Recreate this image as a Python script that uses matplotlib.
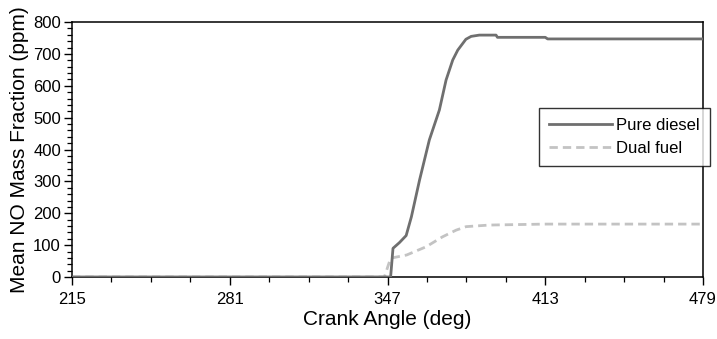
import numpy as np
import matplotlib.pyplot as plt

plt.rcParams['font.family'] = ['Liberation Sans', 'DejaVu Sans']

# Pure diesel: crank angle (deg) and mean NO mass fraction (ppm)
angulo_diesel = [215, 348.3, 349.3, 352, 354.8, 357, 360.4, 364.5, 368.7,
                 371.5, 374.3, 376.4, 379.8, 382, 385.4, 392.4, 393, 413, 414, 479]
no_diesel = [0, 0, 90, 108, 130, 189, 304, 430, 524,
             618, 681, 712, 746, 755, 759, 759, 752, 752, 747, 747]

# Dual fuel
angulo_dual = [215, 345.7, 348.3, 355, 363.2, 370, 375.7, 379.9, 389.6, 413, 479]
no_dual = [0, 0, 59, 69, 95, 126, 147, 158, 163, 166, 166]

ticks_x = [215, 281, 347, 413, 479]

fig = plt.figure(figsize=(7.17, 3.39), dpi=100)
ax = fig.add_axes([0.1004, 0.1829, 0.8801, 0.7521])

ax.plot(angulo_diesel, no_diesel, '-', color='#6f6f6f', linewidth=2.0,
        label='Pure diesel', zorder=3)
ax.plot(angulo_dual, no_dual, '--', color='#c3c3c3', linewidth=2.0,
        dashes=(3, 1.8), label='Dual fuel', zorder=2)

ax.set_xlim(215, 479)
ax.set_ylim(0, 800)
ax.set_xticks(ticks_x)
ax.set_xticks(np.arange(215, 480, 16.5), minor=True)
ax.set_yticks(np.arange(0, 801, 100))
ax.set_yticks(np.arange(0, 801, 20), minor=True)

ax.tick_params(axis='both', which='major', direction='out', length=6,
               width=1.0, labelsize=12, color='black')
ax.tick_params(axis='both', which='minor', direction='out', length=3.5,
               width=0.9, color='black')
ax.tick_params(axis='x', pad=5)
ax.tick_params(axis='y', pad=2)

for lado in ax.spines.values():
    lado.set_linewidth(1.1)
    lado.set_color('black')

ax.set_xlabel('Crank Angle (deg)', fontsize=15, labelpad=2)
ax.set_ylabel('Mean NO Mass Fraction (ppm)', fontsize=15, labelpad=3)

leyenda = ax.legend(loc='upper left', bbox_to_anchor=(0.740, 0.663),
                    fontsize=12, frameon=True, fancybox=False,
                    handlelength=3.8, handletextpad=0.25, borderpad=0.6,
                    labelspacing=0.5, borderaxespad=0)
leyenda.get_frame().set_edgecolor('black')
leyenda.get_frame().set_linewidth(1.0)
leyenda.set_clip_on(False)

fig.savefig('out.png', dpi=100)
